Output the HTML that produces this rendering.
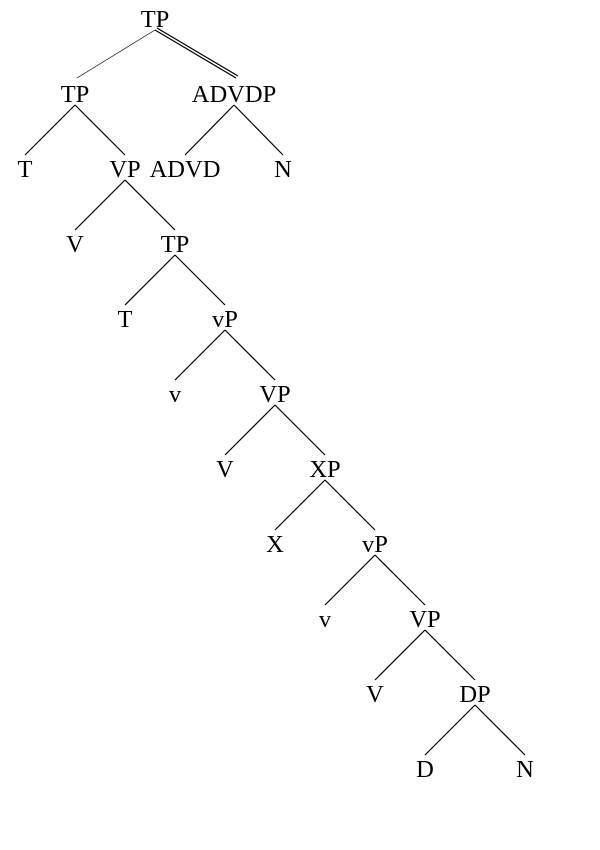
<!DOCTYPE html>
<html><head><meta charset="utf-8"><style>
html,body{margin:0;padding:0;background:#fff;width:600px;height:850px;overflow:hidden}
text{font-family:"Liberation Serif",serif;font-size:24.5px;fill:#000}
</style></head><body>
<svg id="tree" width="600" height="850" xmlns="http://www.w3.org/2000/svg"></svg>
<script>
const labels=["TP","TP","ADVDP","T","VP","ADVD","N","V","TP","T","vP","v","VP","V","XP","X","vP","v","VP","V","DP","D","N"];
const xs=[155,75,234,25,125,185,283,75,175,125,225,175,275,225,325,275,375,325,425,375,475,425,525];
const levels=[0,1,1,2,2,2,2,3,3,4,4,5,5,6,6,7,7,8,8,9,9,10,10];
const parents=[-1,0,0,1,1,2,2,4,4,8,8,10,10,12,12,14,14,16,16,18,18,20,20];
const svg=document.getElementById('tree');
const NS='http://www.w3.org/2000/svg';
const yOf=l=>18+l*75;
function line(x1,y1,x2,y2,w,name){
  const ln=document.createElementNS(NS,'line');
  ln.setAttribute('x1',x1);ln.setAttribute('y1',y1);ln.setAttribute('x2',x2);ln.setAttribute('y2',y2);
  ln.setAttribute('stroke','#000');ln.setAttribute('stroke-width',w);
  
  
  svg.appendChild(ln);
}
for(let i=0;i<labels.length;i++){
  const p=parents[i];
  if(p>=0){
    const px=xs[p],py=yOf(levels[p]),cx=xs[i],cy=yOf(levels[i]);
    if(p===0){
      const ex=cx+2;
      if(i===2){
        line(px,py+12,ex,cy-15,1.2,'branch-'+i);
        line(px+2,py+10,ex+2,cy-17,1.2,'branch-'+i+'-double');
      } else line(px,py+12,ex,cy-15,0.7,'branch-'+i);
    } else line(px,py+12,cx,cy-13,1.2,'branch-'+i);
  }
}
for(let i=0;i<labels.length;i++){
  const t=document.createElementNS(NS,'text');
  t.setAttribute('x',xs[i]);t.setAttribute('y',yOf(levels[i])+9);
  t.setAttribute('text-anchor','middle');
  t.textContent=labels[i];
  
  
  svg.appendChild(t);
}
</script>
</body></html>
